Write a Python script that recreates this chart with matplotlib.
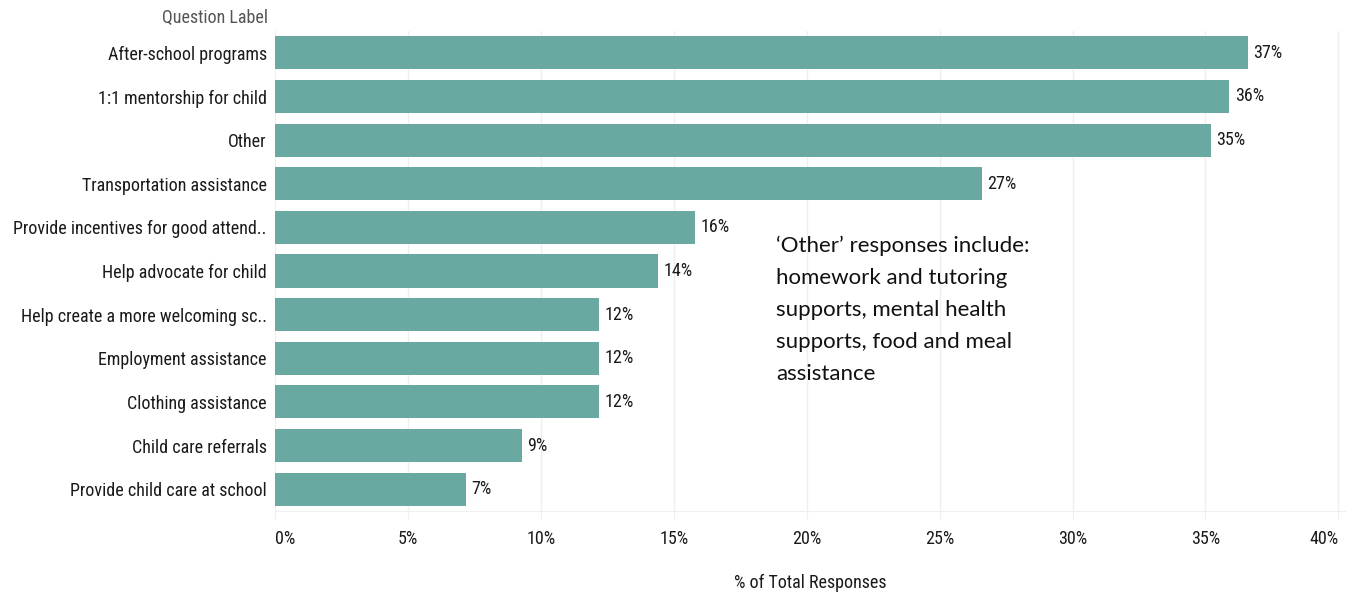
import matplotlib.pyplot as plt
from matplotlib import font_manager
from matplotlib.ticker import FixedLocator, FuncFormatter

# survey answers, share of total responses (%)
labels = [
    "After-school programs",
    "1:1 mentorship for child",
    "Other",
    "Transportation assistance",
    "Provide incentives for good attend..",
    "Help advocate for child",
    "Help create a more welcoming sc..",
    "Employment assistance",
    "Clothing assistance",
    "Child care referrals",
    "Provide child care at school",
]
values = [36.6, 35.9, 35.2, 26.6, 15.8, 14.4, 12.2, 12.2, 12.2, 9.3, 7.2]
ticks = [0, 5, 10, 15, 20, 25, 30, 35, 40]

note = ("\u2018Other\u2019 responses include:\nhomework and tutoring\n"
        "supports, mental health\nsupports, food and meal\nassistance")

names = {f.name for f in font_manager.fontManager.ttflist}
narrow = [f for f in ["Liberation Sans Narrow", "Roboto Condensed", "Liberation Sans"] if f in names]
plt.rcParams["font.family"] = narrow + ["DejaVu Sans"]

bar_color = "#69a9a2"
grid_color = "#efefef"
text_color = "#1a1a1a"
fs = 13.0

fig = plt.figure(figsize=(13.53, 5.94), dpi=100)
ax = fig.add_axes([275 / 1353, 1 - 511 / 594, (1345 - 275) / 1353, 480 / 594])

y = list(range(len(labels)))
ax.barh(y, values, height=0.76, color=bar_color, zorder=2)
for yi, v in zip(y, values):
    ax.text(v + 0.2, yi, f"{round(v)}%", va="center", ha="left",
            fontsize=fs, color=text_color)

ax.set_xlim(0, 40.25)
ax.set_ylim(len(labels) - 0.5, -0.5)
ax.set_yticks(y)
ax.set_yticklabels(labels, fontsize=fs, color=text_color)
ax.xaxis.set_major_locator(FixedLocator(ticks))
ax.xaxis.set_major_formatter(FuncFormatter(lambda x, p: f"{x:.0f}%"))
for lbl in ax.get_xticklabels():
    lbl.set_fontsize(fs)
    lbl.set_color(text_color)
xt = ax.get_xticklabels()
xt[0].set_ha("left")
xt[-1].set_ha("right")

ax.grid(axis="x", color=grid_color, linewidth=1, zorder=0)
ax.tick_params(axis="y", length=0, pad=6)
ax.tick_params(axis="x", length=6, color=grid_color, pad=8)
for s in ["top", "right", "left"]:
    ax.spines[s].set_visible(False)
ax.spines["bottom"].set_color(grid_color)

ax.set_xlabel("% of Total Responses", fontsize=fs, color=text_color, labelpad=18)

fig.text(268 / 1353, 1 - 18 / 594, "Question Label", ha="right", va="center",
         fontsize=fs, color="#555555")

ax.text(18.85, 4.2, note, ha="left", va="top", fontsize=16, color="#111111",
        family=["Lato", "DejaVu Sans"], linespacing=1.74, zorder=3)

fig.savefig("out.png", dpi=100)
